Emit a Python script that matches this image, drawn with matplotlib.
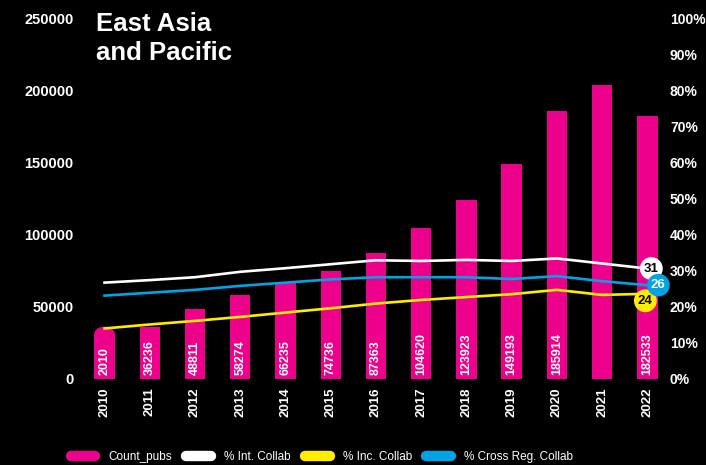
import matplotlib
matplotlib.use("Agg")
import matplotlib.pyplot as plt
from matplotlib.lines import Line2D
from matplotlib.patches import Ellipse

plt.rcParams['font.family'] = ['Liberation Sans', 'DejaVu Sans']

years = ['2010', '2011', '2012', '2013', '2014', '2015', '2016',
         '2017', '2018', '2019', '2020', '2021', '2022']
count_pubs = [36236, 36236, 48811, 58274, 66235, 74736, 87363,
              104620, 123923, 149193, 185914, 204000, 182533]
bar_labels = ['2010', '36236', '48811', '58274', '66235', '74736', '87363',
              '104620', '123923', '149193', '185914', '', '182533']
int_collab = [26.7, 27.4, 28.2, 29.7, 30.7, 31.8, 32.9,
              32.7, 33.0, 32.7, 33.4, 32.0, 30.6]
inc_collab = [14.0, 15.1, 16.1, 17.2, 18.4, 19.6, 20.9,
              21.9, 22.7, 23.5, 24.7, 23.3, 23.6]
cross_reg = [23.1, 23.9, 24.7, 25.8, 26.7, 27.6, 28.2,
             28.2, 28.2, 27.7, 28.5, 27.1, 26.0]

PINK = '#EC008C'
YELLOW = '#FFED00'
BLUE = '#00A3E4'
WHITE = '#FFFFFF'
BAR_W = 0.45
YMAX = 250000

fig = plt.figure(figsize=(7.06, 4.65), dpi=100, facecolor='black')
ax = fig.add_axes([0.116, 0.185, 0.833, 0.776])
ax.set_facecolor('black')
ax2 = ax.twinx()

x = list(range(len(years)))
ax.set_xlim(-0.5, len(years) - 0.5)
ax.set_ylim(0, YMAX)

# first bar gets a rounded cap (half ellipse about 7 px tall)
cap_h = 7 * YMAX / ax.get_window_extent().height
heights = list(count_pubs)
heights[0] = count_pubs[0] - cap_h
ax.bar(x, heights, width=BAR_W, color=PINK, zorder=2)
ax.add_patch(Ellipse((x[0], heights[0]), BAR_W, 2 * cap_h, color=PINK,
                     lw=0, zorder=2))

for xi, lab in zip(x, bar_labels):
    ax.text(xi, 3000, lab, rotation=90, ha='center', va='bottom',
            color='white', fontsize=9, fontweight='bold', zorder=3)

ax.set_yticks(range(0, YMAX + 1, 50000))
ax.set_xticks(x)
ax.set_xticklabels(years, rotation=90)
ax.tick_params(axis='both', length=0, colors='white')
ax.tick_params(axis='y', labelsize=10.5, pad=6)
ax.tick_params(axis='x', labelsize=9.5, pad=6)
for lab in ax.get_xticklabels() + ax.get_yticklabels():
    lab.set_fontweight('bold')

ax2.plot(x, int_collab, color=WHITE, lw=1.9, zorder=3)
ax2.plot(x, inc_collab, color=YELLOW, lw=1.9, zorder=3)
ax2.plot(x, cross_reg, color=BLUE, lw=1.9, zorder=3)
ax2.set_ylim(0, 100)
ax2.set_yticks(range(0, 101, 10))
ax2.set_yticklabels([f'{v}%' for v in range(0, 101, 10)])
ax2.tick_params(axis='y', length=0, colors='white', labelsize=10, pad=0)
for lab in ax2.get_yticklabels():
    lab.set_fontweight('bold')

for a in (ax, ax2):
    for s in a.spines.values():
        s.set_visible(False)

# end-of-line value bubbles
last = len(years) - 1
ends = [(int_collab, WHITE, 'black', (4, 0)),
        (inc_collab, YELLOW, 'black', (-2, -7)),
        (cross_reg, BLUE, 'white', (11, 0))]
for series, fc, tc, off in ends:
    ax2.annotate(f'{round(series[last])}', (last, series[last]),
                 xytext=off, textcoords='offset pixels',
                 ha='center', va='center', color=tc, fontsize=9.5,
                 fontweight='bold', zorder=5,
                 bbox=dict(boxstyle='circle,pad=0.3', fc=fc, ec='none'))

fig.text(0.136, 0.975, 'East Asia\nand Pacific', color='white',
         fontsize=18.5, fontweight='bold', va='top', ha='left',
         linespacing=1.3)

handles = [Line2D([], [], color=c, lw=7.5, solid_capstyle='round')
           for c in (PINK, WHITE, YELLOW, BLUE)]
names = ['Count_pubs', '% Int. Collab', '% Inc. Collab', '% Cross Reg. Collab']
leg = fig.legend(handles, names, loc='lower left', bbox_to_anchor=(0.085, -0.018),
                 ncol=4, frameon=False, fontsize=8.5, handlelength=2.1,
                 handletextpad=1.1, columnspacing=1.2)
for t in leg.get_texts():
    t.set_color('white')

fig.savefig('out.png', dpi=100, facecolor='black')
